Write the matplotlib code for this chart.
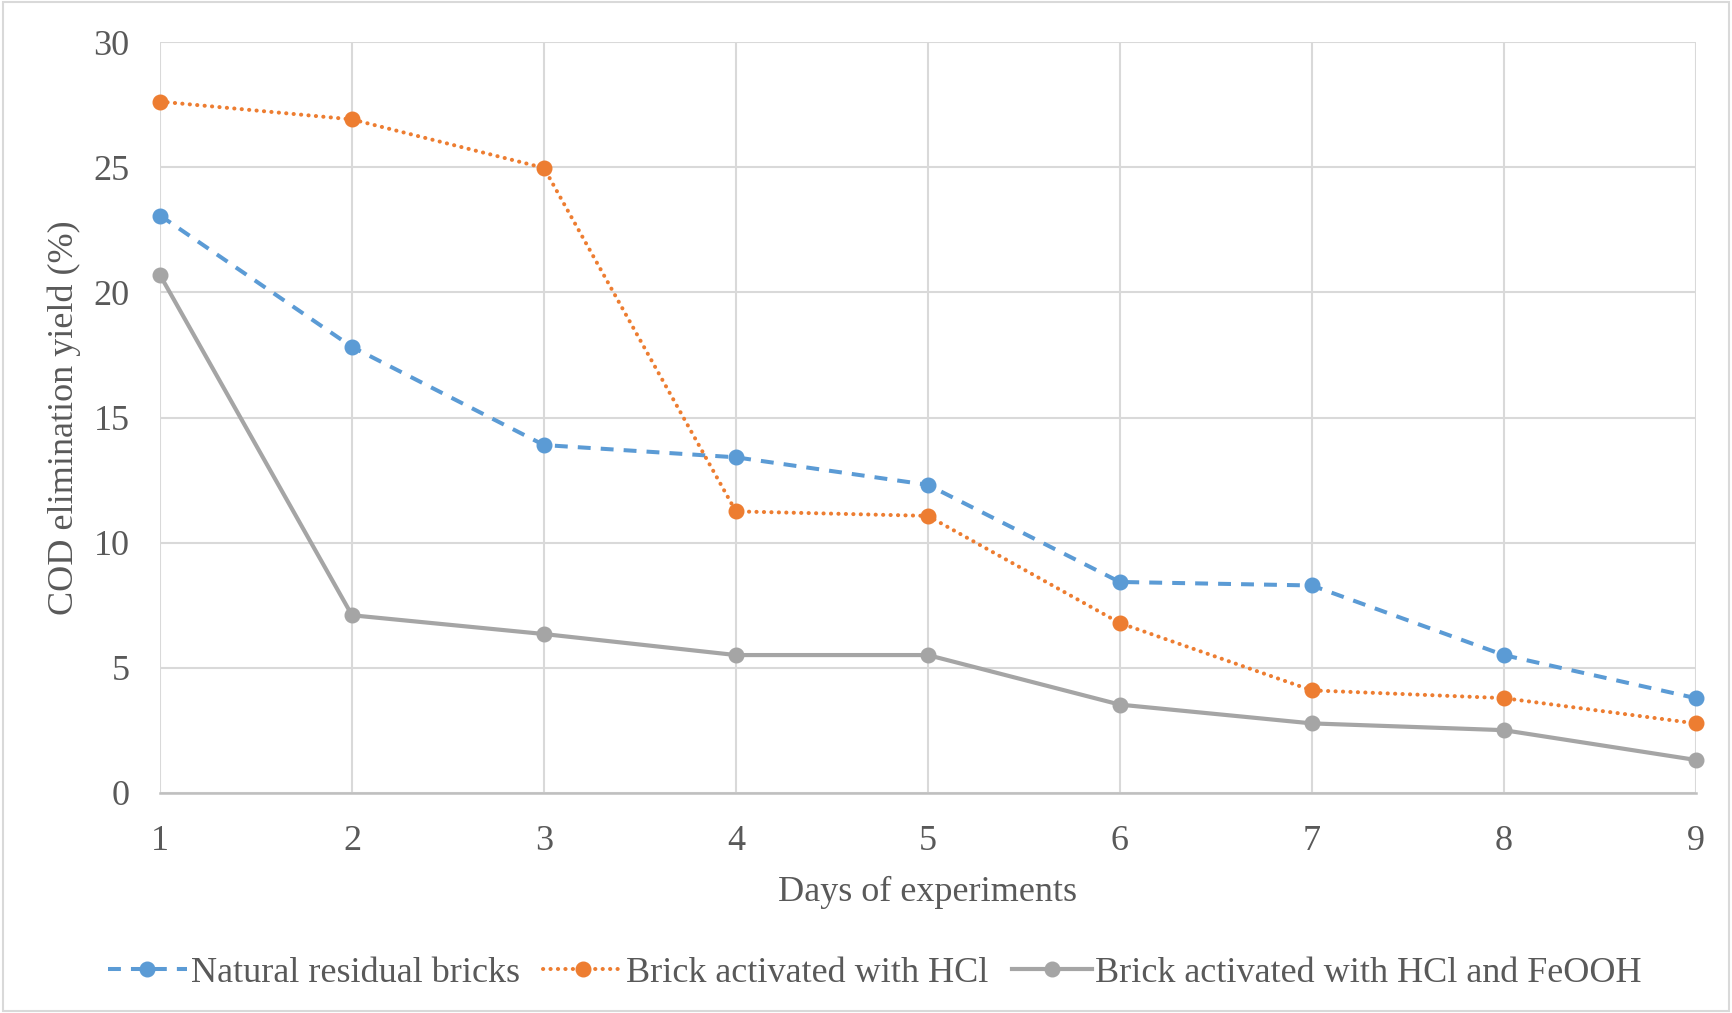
import matplotlib
matplotlib.use("Agg")
import matplotlib.pyplot as plt
from matplotlib.patches import Rectangle

days = [1, 2, 3, 4, 5, 6, 7, 8, 9]
natural = [23.07, 17.82, 13.9, 13.41, 12.31, 8.43, 8.29, 5.51, 3.79]
hcl = [27.62, 26.91, 24.97, 11.25, 11.07, 6.79, 4.10, 3.79, 2.78]
hcl_feooh = [20.69, 7.10, 6.35, 5.51, 5.51, 3.53, 2.78, 2.51, 1.32]
labels = ["Natural residual bricks", "Brick activated with HCl", "Brick activated with HCl and FeOOH"]

plt.rcParams['font.family'] = ['Liberation Serif', 'DejaVu Serif']
txt = '#595959'

fig = plt.figure(figsize=(17.32, 10.13), dpi=100)
ax = fig.add_axes([0.0924, 0.2172, 0.979 - 0.0924, 0.9585 - 0.2172])

ax.plot(days, natural, color='#5b9bd5', lw=2.9, ls=(0, (3.2, 2.5)), marker='o', ms=10.5,
        label=labels[0], clip_on=False)
ax.plot(days, hcl, color='#ed7d31', lw=2.9, ls=(0, (0.05, 1.8)), dash_capstyle='round', marker='o',
        ms=10.5, label=labels[1], clip_on=False)
ax.plot(days, hcl_feooh, color='#a5a5a5', lw=3.0, ls='-', marker='o', ms=10.5, label=labels[2],
        clip_on=False)

ax.set_xlim(1, 9)
ax.set_ylim(0, 30)
ax.set_xticks(days)
ax.set_yticks([0, 5, 10, 15, 20, 25, 30])
ax.grid(True, color='#d9d9d9', lw=1.5)
ax.set_axisbelow(True)
for s in ['top', 'right', 'left']:
    ax.spines[s].set_visible(False)
ax.spines['bottom'].set_color('#bfbfbf')
ax.spines['bottom'].set_linewidth(1.8)
ax.tick_params(axis='both', length=0, labelsize=26, labelcolor=txt)
ax.tick_params(axis='y', pad=22)
ax.tick_params(axis='x', pad=23)
ax.set_xlabel("Days of experiments", fontsize=26, color=txt, labelpad=13)
ax.set_ylabel("COD elimination yield (%)", fontsize=26, color=txt, labelpad=9)

leg = fig.legend(loc='center', bbox_to_anchor=(0.505, 0.039), ncol=3, frameon=False,
                 fontsize=26, labelcolor=txt, handlelength=2.2, handletextpad=0.1,
                 columnspacing=0.65)

fig.patches.append(Rectangle((0.002, 0.002), 0.996, 0.996, transform=fig.transFigure,
                             fill=False, edgecolor='#d9d9d9', lw=1.5))

fig.savefig("out.png", dpi=100)
